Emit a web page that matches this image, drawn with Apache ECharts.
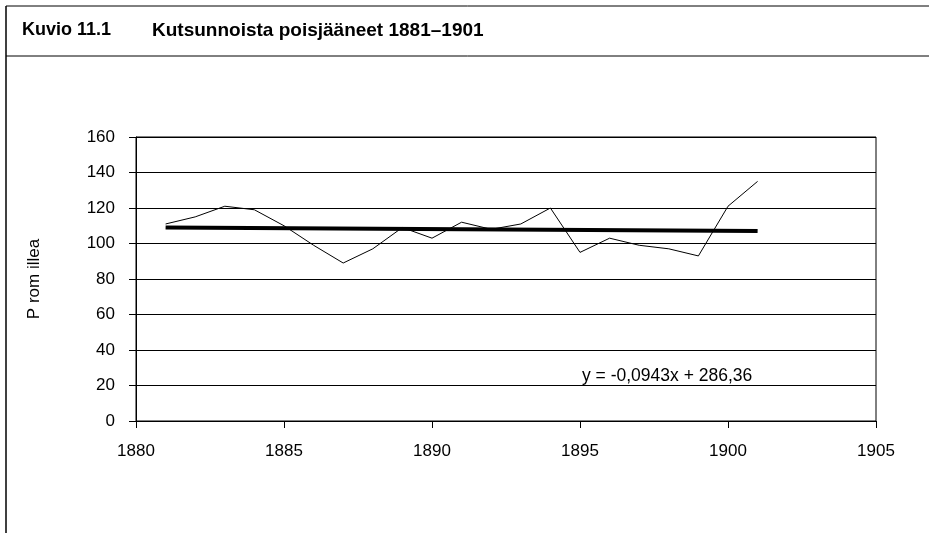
<!DOCTYPE html>
<html>
<head>
<meta charset="utf-8">
<script src="https://cdn.jsdelivr.net/npm/echarts@6/dist/echarts.min.js"></script>
<style>
html,body{margin:0;padding:0;background:#fff;}
#chart{width:929px;height:533px;}
</style>
</head>
<body>
<div id="chart"></div>
<script>
const figureLabel = 'Kuvio 11.1';
const figureTitle = 'Kutsunnoista poisjääneet 1881–1901';
const yAxisName = 'P rom illea';
const years = [1881,1882,1883,1884,1885,1886,1887,1888,1889,1890,1891,1892,1893,1894,1895,1896,1897,1898,1899,1900,1901];
const values = [111,115,121,119,110,99,89,97,109,103,112,108,111,120,95,103,99,97,93,121,135];
const trendYears = [1881, 1901];
const trendValues = [108.98, 107.09];
const equationText = 'y = -0,0943x + 286,36';

const FONT = '"Liberation Sans", Arial, sans-serif';

const chart = echarts.init(document.getElementById('chart'), null, {renderer: 'canvas'});
const option = {
  backgroundColor: '#fff',
  animation: false,
  grid: {left: 136, right: 53, top: 137, bottom: 112, show: true, borderColor: '#000', borderWidth: 1},
  xAxis: {
    type: 'value', min: 1880, max: 1905, interval: 5,
    axisLine: {show: true, lineStyle: {color: '#000', width: 1}},
    axisTick: {show: true, length: 7, lineStyle: {color: '#000'}},
    axisLabel: {color: '#000', fontFamily: FONT, fontSize: 17, margin: 22, formatter: v => String(v)},
    splitLine: {show: false}
  },
  yAxis: {
    type: 'value', min: 0, max: 160, interval: 20,
    name: yAxisName, nameLocation: 'middle', nameGap: 93, nameRotate: 90,
    nameTextStyle: {color: '#000', fontFamily: FONT, fontSize: 17},
    axisLine: {show: true, lineStyle: {color: '#000', width: 1}},
    axisTick: {show: true, length: 7, lineStyle: {color: '#000'}},
    axisLabel: {color: '#000', fontFamily: FONT, fontSize: 17, margin: 21},
    splitLine: {show: true, lineStyle: {color: '#000', width: 1}}
  },
  series: [
    {
      type: 'line', name: 'trend',
      data: trendYears.map((y, i) => [y, trendValues[i]]),
      symbol: 'none', lineStyle: {color: '#000', width: 4}, z: 3
    },
    {
      type: 'line', name: 'data',
      data: years.map((y, i) => [y, values[i]]),
      symbol: 'none', lineStyle: {color: '#000', width: 1}, z: 4
    }
  ],
  graphic: [
    {type: 'line', shape: {x1: 6, y1: 6, x2: 929, y2: 6}, style: {stroke: '#000', lineWidth: 1}},
    {type: 'line', shape: {x1: 6, y1: 56, x2: 929, y2: 56}, style: {stroke: '#000', lineWidth: 1}},
    {type: 'line', shape: {x1: 6, y1: 6, x2: 6, y2: 533}, style: {stroke: '#000', lineWidth: 1.5}},
    {type: 'text', left: 22, top: 21, style: {text: figureLabel, fill: '#000', font: 'bold 18px ' + FONT}},
    {type: 'text', left: 152, top: 21, style: {text: figureTitle, fill: '#000', font: 'bold 19px ' + FONT}},
    {type: 'text', left: 582, top: 367, style: {text: equationText, fill: '#000', font: '17.5px ' + FONT}}
  ]
};
chart.setOption(option);
</script>
</body>
</html>
